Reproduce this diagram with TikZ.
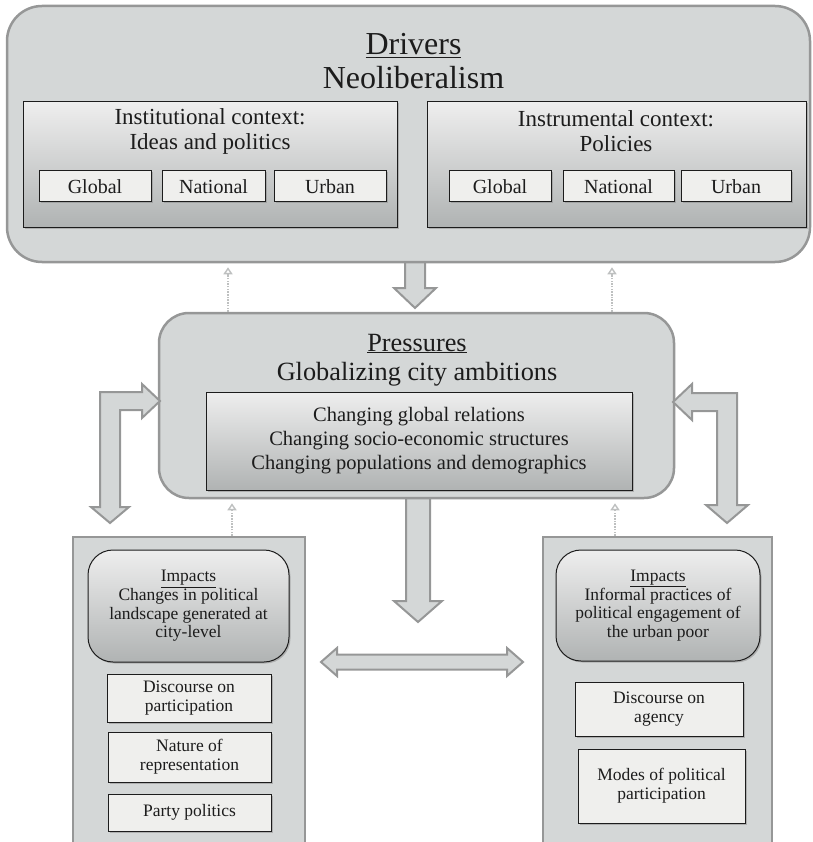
\documentclass[tikz,border=0pt]{standalone}
\usepackage{fontspec}
\setmainfont{Liberation Serif}
\usetikzlibrary{shadows,arrows.meta,backgrounds}

\definecolor{panelgray}{RGB}{212,215,215}
\definecolor{bordergray}{RGB}{150,151,151}
\definecolor{gradtop}{RGB}{238,238,238}
\definecolor{gradbot}{RGB}{176,179,179}
\definecolor{boxfill}{RGB}{239,239,237}
\definecolor{dotgray}{RGB}{190,192,192}
\definecolor{inkdark}{RGB}{28,28,28}

\newcommand{\setfs}[2]{\fontsize{#1}{#2}\selectfont}

\begin{document}
\begin{tikzpicture}[x=1pt,y=-1pt,
    every node/.style={text=inkdark, inner sep=0pt},
    outerbox/.style={draw=bordergray, fill=panelgray, line width=2.5pt},
    gradbox/.style={draw=inkdark, line width=1pt, top color=gradtop, bottom color=gradbot,
      drop shadow={shadow xshift=1.5pt, shadow yshift=-1.5pt, opacity=.45}},
    smallbox/.style={draw=inkdark, line width=1pt, fill=boxfill, align=center,
      drop shadow={shadow xshift=1.5pt, shadow yshift=-1.5pt, opacity=.45}},
    blockarrow/.style={draw=bordergray, fill=panelgray, line width=2pt, line join=miter},
    dotarrow/.style={draw=dotgray, line width=2.8pt, dash pattern=on 1.5pt off 1.2pt,
      -{Triangle[open, length=7pt, width=9pt, line width=1.4pt]}, shorten >=4pt}]
  \useasboundingbox (0,0) rectangle (812,842);
  \clip (0,0) rectangle (812,842);

  % drivers
  \node[outerbox, rounded corners=35pt, minimum width=803pt, minimum height=256pt] (drivers) at (408.5,134) {};
  \node[font={\setfs{32}{34}}, anchor=base] (drvtitle) at (413.5,55) {\underline{Drivers}};
  \node[font={\setfs{32}{34}}, anchor=base] (neolib) at (413.5,88.5) {Neoliberalism};

  \node[gradbox, minimum width=374pt, minimum height=125pt] (inst) at (210,164.5) {};
  \node[font={\setfs{23}{25}}, align=center] (insttext) at (210,131) {Institutional context:\\Ideas and politics};
  \node[smallbox, minimum width=112pt, minimum height=31pt, font={\setfs{20}{22}}] (iglob) at (95,186.5) {Global};
  \node[smallbox, minimum width=103pt, minimum height=31pt, font={\setfs{20}{22}}] (inat) at (213.5,186.5) {National};
  \node[smallbox, minimum width=112pt, minimum height=31pt, font={\setfs{20}{22}}] (iurb) at (330,186.5) {Urban};

  \node[gradbox, minimum width=379pt, minimum height=125pt] (instr) at (616.5,164.5) {};
  \node[font={\setfs{23}{25}}, align=center] (instrtext) at (616,131) {Instrumental context:\\Policies};
  \node[smallbox, minimum width=102pt, minimum height=31pt, font={\setfs{20}{22}}] (pglob) at (500,186.5) {Global};
  \node[smallbox, minimum width=111pt, minimum height=31pt, font={\setfs{20}{22}}] (pnat) at (618.5,186.5) {National};
  \node[smallbox, minimum width=110pt, minimum height=31pt, font={\setfs{20}{22}}] (purb) at (736,186.5) {Urban};

  % pressures
  \node[outerbox, rounded corners=30pt, minimum width=515pt, minimum height=185pt] (press) at (416.5,405.5) {};
  \node[font={\setfs{26.3}{28}}, anchor=base] (prtitle) at (417,351) {\underline{Pressures}};
  \node[font={\setfs{26.3}{28}}, anchor=base] (globcity) at (417,380) {Globalizing city ambitions};
  \node[gradbox, minimum width=426pt, minimum height=98pt, align=center, font={\setfs{20.5}{24}}] (prinner) at (419,441)
    {Changing global relations\\Changing socio-economic structures\\Changing populations and demographics};

  % impacts
  \node[outerbox, minimum width=232pt, minimum height=326pt] (lpanel) at (189,700) {};
  \node[gradbox, rounded corners=25pt, minimum width=201pt, minimum height=112pt, align=center, font={\setfs{17.5}{18.6}}] (limp) at (188.5,606)
    {\underline{Impacts}\\Changes in political\\landscape generated at\\city-level};
  \node[smallbox, minimum width=164pt, minimum height=48pt, font={\setfs{17.5}{19}}] (ldisc) at (189,698) {Discourse on\\participation};
  \node[smallbox, minimum width=163pt, minimum height=50pt, font={\setfs{17.5}{19}}] (lnat) at (189.5,757) {Nature of\\representation};
  \node[smallbox, minimum width=163pt, minimum height=37pt, font={\setfs{17.5}{19}}] (lparty) at (189.5,812.5) {Party politics};

  \node[outerbox, minimum width=229pt, minimum height=326pt] (rpanel) at (657.5,700) {};
  \node[gradbox, rounded corners=25pt, minimum width=204pt, minimum height=111pt, align=center, font={\setfs{17.5}{18.6}}] (rimp) at (658,605.5)
    {\underline{Impacts}\\Informal practices of\\political engagement of\\the urban poor};
  \node[smallbox, minimum width=168pt, minimum height=54pt, font={\setfs{17.5}{19}}] (rdisc) at (659,709) {Discourse on\\agency};
  \node[smallbox, minimum width=167pt, minimum height=74pt, font={\setfs{17.5}{19}}] (rmodes) at (661.5,786) {Modes of political\\participation};

  % block arrows
  \coordinate (dtip) at (415,308);
  \coordinate (ctip) at (418,622);
  \coordinate (ltip) at (160,401);
  \coordinate (rtip) at (673,402);
  \begin{scope}[on background layer]
    \draw[blockarrow] (405,250) -- (405,288) -- (394,288) -- (dtip) -- (436,288) -- (425,288) -- (425,250) -- cycle;
    \draw[blockarrow] (406,490) -- (406,601) -- (394,601) -- (ctip) -- (442,601) -- (430,601) -- (430,490) -- cycle;
  \end{scope}
  \draw[blockarrow] (ltip) -- (142,384) -- (142,392) -- (100,392) -- (100,507) -- (91,507) -- (110,523)
    -- (129,507) -- (120,507) -- (120,410) -- (142,410) -- (142,418) -- cycle;
  \draw[blockarrow] (rtip) -- (692,384) -- (692,393) -- (737,393) -- (737,505) -- (748,505) -- (727,523)
    -- (706,505) -- (717,505) -- (717,411) -- (692,411) -- (692,420) -- cycle;
  \draw[blockarrow] (321,662) -- (337,648) -- (337,654.5) -- (507,654.5) -- (507,648) -- (523,662)
    -- (507,676) -- (507,669.5) -- (337,669.5) -- (337,676) -- cycle;

  % feedback
  \coordinate (fa) at (228,0);
  \coordinate (fb) at (612,0);
  \coordinate (fc) at (232,0);
  \coordinate (fd) at (615,0);
  \draw[dotarrow] (press.north -| fa) -- (drivers.south -| fa);
  \draw[dotarrow] (press.north -| fb) -- (drivers.south -| fb);
  \draw[dotarrow] (lpanel.north -| fc) -- (press.south -| fc);
  \draw[dotarrow] (rpanel.north -| fd) -- (press.south -| fd);
\end{tikzpicture}
\end{document}
